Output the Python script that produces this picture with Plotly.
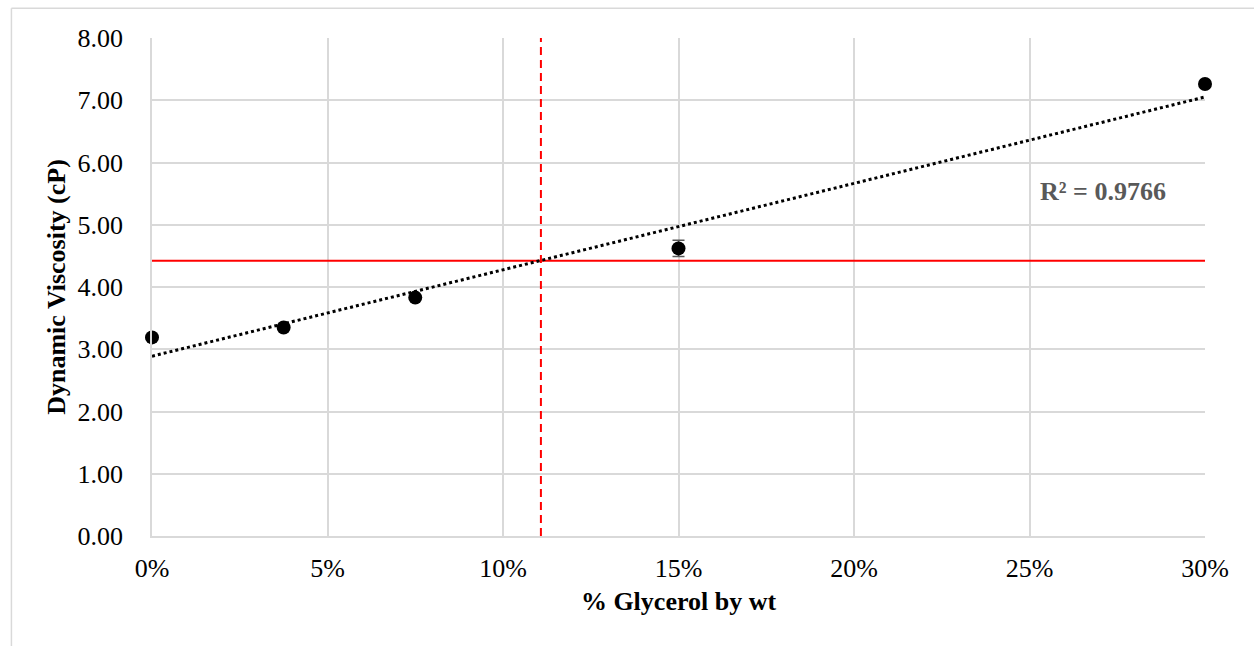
import plotly.graph_objects as go
import numpy as np

# Data
glycerol_frac = [0.0, 0.0375, 0.075, 0.15, 0.30]
viscosity_cp = [3.19, 3.35, 3.83, 4.62, 7.26]
viscosity_err = [0.0, 0.0, 0.0, 0.13, 0.0]
target_viscosity = 4.42
target_glycerol = 0.1108
r2_label = "R² = 0.9766"
x_ticks = [0.0, 0.05, 0.10, 0.15, 0.20, 0.25, 0.30]
y_ticks = [0, 1, 2, 3, 4, 5, 6, 7, 8]

FONT = "Liberation Serif"
GRID = "#d9d9d9"

# linear trendline (least squares)
slope, intercept = np.polyfit(glycerol_frac, viscosity_cp, 1)
trend_x = [x_ticks[0], x_ticks[-1]]
trend_y = [intercept + slope * v for v in trend_x]

fig = go.Figure()

fig.add_trace(go.Scatter(
    x=[x_ticks[0], x_ticks[-1]], y=[target_viscosity, target_viscosity],
    mode="lines", line=dict(color="#ff0000", width=2), showlegend=False,
    hoverinfo="skip"))

fig.add_trace(go.Scatter(
    x=[target_glycerol, target_glycerol], y=[y_ticks[0], y_ticks[-1]],
    mode="lines", line=dict(color="#ff0000", width=2, dash="8px,5px"),
    showlegend=False, hoverinfo="skip"))

fig.add_trace(go.Scatter(
    x=trend_x, y=trend_y, mode="lines",
    line=dict(color="black", width=3, dash="dot"), showlegend=False))

fig.add_trace(go.Scatter(
    x=glycerol_frac, y=viscosity_cp, mode="markers",
    marker=dict(color="black", size=14),
    error_y=dict(type="data", array=viscosity_err, visible=True,
                 color="#595959", thickness=1.5, width=6),
    cliponaxis=False, showlegend=False))

fig.add_annotation(
    x=0.2708, y=5.53, text="<b>" + r2_label + "</b>", showarrow=False,
    font=dict(family=FONT, size=26, color="#595959"),
    xanchor="center", yanchor="middle")

# outer chart border (top and left visible)
fig.add_shape(type="line", xref="paper", yref="paper",
              x0=-0.1335, x1=1.1, y0=1.0596, y1=1.0596,
              line=dict(color=GRID, width=1.5))
fig.add_shape(type="line", xref="paper", yref="paper",
              x0=-0.1335, x1=-0.1335, y0=-0.3, y1=1.0596,
              line=dict(color=GRID, width=1.5))

fig.update_layout(
    width=1254, height=646,
    margin=dict(l=152, r=49, t=38, b=110),
    paper_bgcolor="white", plot_bgcolor="white",
    font=dict(family=FONT, size=26, color="black"),
    showlegend=False,
)

fig.update_xaxes(
    range=[x_ticks[0], x_ticks[-1]], tickvals=x_ticks, tickformat=".0%",
    showgrid=True, gridcolor=GRID, gridwidth=1.5,
    showline=True, linecolor=GRID, linewidth=1.5,
    zeroline=False, ticks="", ticklabelstandoff=8,
    tickfont=dict(family=FONT, size=26, color="black"),
    title=dict(text="<b>% Glycerol by wt</b>", standoff=10,
               font=dict(family=FONT, size=26, color="black")),
)
fig.update_yaxes(
    range=[y_ticks[0], y_ticks[-1]], tickvals=y_ticks, tickformat=".2f",
    showgrid=True, gridcolor=GRID, gridwidth=1.5,
    showline=True, linecolor=GRID, linewidth=1.5,
    zeroline=False, ticks="", ticklabelstandoff=22,
    tickfont=dict(family=FONT, size=26, color="black"),
    title=dict(text="<b>Dynamic Viscosity (cP)</b>", standoff=4,
               font=dict(family=FONT, size=26, color="black")),
)

fig.write_html("out.html")
